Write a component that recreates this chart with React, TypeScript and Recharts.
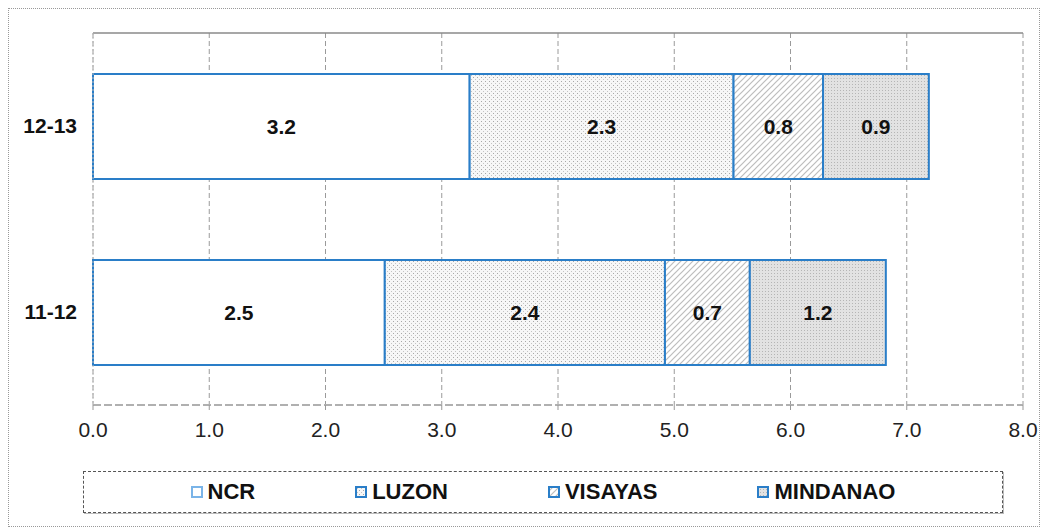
import { BarChart, Bar, XAxis, YAxis, CartesianGrid, Legend, LabelList, ReferenceLine } from 'recharts'

const years = ['12-13', '11-12']
const ncr = [3.24, 2.51]
const luzon = [2.27, 2.41]
const visayas = [0.77, 0.73]
const mindanao = [0.91, 1.17]
const xTicks = [0, 1, 2, 3, 4, 5, 6, 7, 8]

const series = [
    { key: 'ncr', name: 'NCR', fill: '#ffffff' },
    { key: 'luzon', name: 'LUZON', fill: 'url(#pat-luzon)' },
    { key: 'visayas', name: 'VISAYAS', fill: 'url(#pat-visayas)' },
    { key: 'mindanao', name: 'MINDANAO', fill: 'url(#pat-mindanao)' },
]

const data = years.map((year, i) => ({
    year,
    ncr: ncr[i],
    luzon: luzon[i],
    visayas: visayas[i],
    mindanao: mindanao[i],
}))

const BLUE = '#2a7ec8'
const FONT = '"Liberation Sans", Arial, sans-serif'

function Patterns() {
    return (
        <svg width={0} height={0} style={{ position: 'absolute' }}>
            <defs>
                <pattern id="pat-luzon" width={4} height={4} patternUnits="userSpaceOnUse">
                    <rect width={4} height={4} fill="#f7f7f7" />
                    <rect x={0} y={0} width={1} height={1} fill="#a8a8a8" />
                    <rect x={2} y={2} width={1} height={1} fill="#c4c4c4" />
                </pattern>
                <pattern id="pat-visayas" width={6} height={6} patternUnits="userSpaceOnUse">
                    <rect width={6} height={6} fill="#ffffff" />
                    <path d="M-1,7 L7,-1 M-1,1 L1,-1 M5,7 L7,5" stroke="#bdbdbd" strokeWidth={1.2} />
                </pattern>
                <pattern id="pat-mindanao" width={3} height={3} patternUnits="userSpaceOnUse">
                    <rect width={3} height={3} fill="#e2e2e2" />
                    <rect x={0} y={0} width={1} height={1} fill="#b5b5b5" />
                </pattern>
            </defs>
        </svg>
    )
}

function LegendBox() {
    return (
        <div
            style={{
                boxSizing: 'border-box',
                height: 42,
                border: '1px dashed #555',
                boxShadow: '1px 1px 0 #bbb',
                display: 'flex',
                justifyContent: 'center',
                alignItems: 'center',
                gap: 100,
                fontFamily: FONT,
                fontWeight: 'bold',
                fontSize: 22,
                color: '#111',
            }}
        >
            {series.map((s) => (
                <div key={s.key} style={{ display: 'flex', alignItems: 'center' }}>
                    <svg width={12} height={12} style={{ marginRight: 5 }}>
                        <rect x={1} y={1} width={10} height={10} fill={s.fill} stroke={s.key === 'ncr' ? '#7ab4e8' : BLUE} strokeWidth={2} />
                    </svg>
                    <span>{s.name}</span>
                </div>
            ))}
        </div>
    )
}

export default function App() {
    return (
        <div
            style={{
                position: 'absolute',
                left: 8,
                top: 8,
                width: 1030,
                height: 517,
                border: '1px dotted #999',
                background: '#fff',
            }}
        >
            <Patterns />
            <BarChart
                width={1030}
                height={517}
                data={data}
                layout="vertical"
                margin={{ top: 24, right: 16, left: 0, bottom: 13 }}
                barCategoryGap={0}
            >
                <CartesianGrid horizontal={false} stroke="#9a9a9a" strokeDasharray="5 3" />
                <XAxis
                    type="number"
                    domain={[0, 8]}
                    ticks={xTicks}
                    tickFormatter={(v: number) => v.toFixed(1)}
                    height={66}
                    axisLine={{ stroke: '#b0b0b0', strokeWidth: 2, strokeDasharray: '8 3' }}
                    tickLine={{ stroke: '#999' }}
                    tickSize={5}
                    tickMargin={12}
                    tick={{ fill: '#222', fontSize: 21, fontFamily: FONT }}
                />
                <YAxis
                    type="category"
                    dataKey="year"
                    width={84}
                    tickLine={false}
                    tickSize={0}
                    tickMargin={16}
                    axisLine={{ stroke: '#b8b8b8', strokeDasharray: '2 2' }}
                    tick={{ fill: '#111', fontSize: 21, fontWeight: 'bold', fontFamily: FONT }}
                />
                {/* solid frame line along the top of the plot */}
                <ReferenceLine y={years[0]} position="start" stroke="#8a8a8a" strokeWidth={1.5} ifOverflow="visible" />
                <Legend
                    verticalAlign="bottom"
                    wrapperStyle={{ left: 74, width: 920, bottom: 13, height: 42 }}
                    content={() => <LegendBox />}
                />
                {series.map((s) => (
                    <Bar
                        key={s.key}
                        dataKey={s.key}
                        name={s.name}
                        stackId="a"
                        fill={s.fill}
                        stroke={BLUE}
                        strokeWidth={2}
                        barSize={105}
                        isAnimationActive={false}
                    >
                        <LabelList
                            dataKey={s.key}
                            position="center"
                            formatter={(v: any) => Number(v).toFixed(1)}
                            fill="#111"
                            fontSize={21}
                            fontWeight="bold"
                            fontFamily={FONT}
                        />
                    </Bar>
                ))}
            </BarChart>
        </div>
    )
}
